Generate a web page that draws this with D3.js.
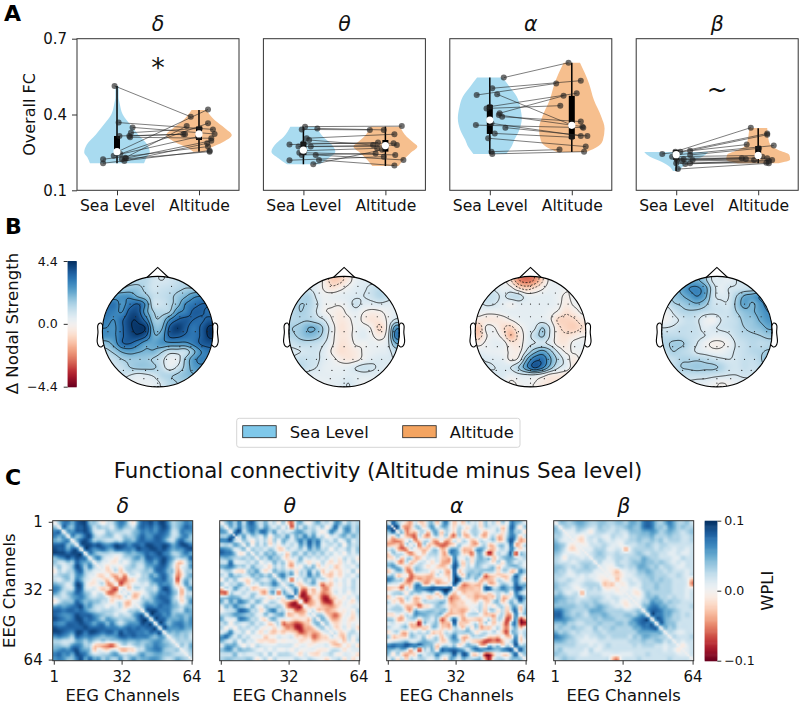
<!DOCTYPE html>
<html>
<head>
<meta charset="utf-8">
<script src="https://cdn.jsdelivr.net/npm/d3@7"></script>
<style>
  body { margin: 0; background: #fff; }
  svg { display: block; font-family: "DejaVu Sans", sans-serif; fill: #111; }
  .tick text { font-family: "DejaVu Sans", sans-serif; fill: #111; }
</style>
</head>
<body>
<div id="chart"></div>
<script>
const bands = ['δ', 'θ', 'α', 'β']
const conditions = ['Sea Level', 'Altitude']
const fcTicks = [0.1, 0.4, 0.7]
const marks = ['*', '', '', '~']

// violin outlines, [value, half width]
const deltaSeaViolin = [[0.513, 0.02], [0.47, 0.02], [0.44, 0.035], [0.40, 0.07], [0.36, 0.16], [0.32, 0.26], [0.28, 0.37], [0.25, 0.40], [0.23, 0.36], [0.207, 0.33]]
const deltaAltViolin = [[0.418, 0.09], [0.378, 0.19], [0.345, 0.32], [0.319, 0.40], [0.292, 0.30], [0.266, 0.13], [0.253, 0.07]]
const thetaSeaViolin = [[0.352, 0.16], [0.312, 0.24], [0.286, 0.33], [0.253, 0.39], [0.226, 0.30], [0.203, 0.20]]
const thetaAltViolin = [[0.352, 0.18], [0.312, 0.26], [0.292, 0.33], [0.273, 0.39], [0.246, 0.30], [0.22, 0.22], [0.196, 0.16]]
const alphaSeaViolin = [[0.546, 0.155], [0.51, 0.24], [0.47, 0.33], [0.43, 0.37], [0.385, 0.39], [0.339, 0.36], [0.30, 0.30], [0.27, 0.26], [0.244, 0.20]]
const alphaAltViolin = [[0.605, 0.10], [0.523, 0.21], [0.457, 0.27], [0.391, 0.36], [0.345, 0.40], [0.299, 0.38], [0.266, 0.28], [0.252, 0.18]]
const betaSeaViolin = [[0.252, 0.39], [0.233, 0.32], [0.213, 0.18], [0.193, 0.08], [0.176, 0.04]]
const betaAltViolin = [[0.3465, 0.11], [0.312, 0.12], [0.279, 0.15], [0.26, 0.24], [0.24, 0.38], [0.222, 0.39], [0.207, 0.25]]

// box summaries: min, q1, median, q3, max
const deltaBoxes = [[0.207, 0.25, 0.253, 0.315, 0.513], [0.253, 0.299, 0.323, 0.352, 0.418]]
const thetaBoxes = [[0.203, 0.24, 0.259, 0.292, 0.352], [0.196, 0.253, 0.277, 0.299, 0.352]]
const alphaBoxes = [[0.244, 0.323, 0.378, 0.438, 0.546], [0.252, 0.303, 0.357, 0.474, 0.605]]
const betaBoxes = [[0.176, 0.22, 0.241, 0.26, 0.252], [0.207, 0.226, 0.238, 0.275, 0.346]]

// paired subjects
const deltaSea = [0.513, 0.368, 0.349, 0.328, 0.315, 0.315, 0.310, 0.253, 0.229, 0.244, 0.237, 0.227, 0.216, 0.223, 0.207, 0.223]
const deltaAlt = [0.391, 0.341, 0.323, 0.345, 0.322, 0.322, 0.306, 0.420, 0.354, 0.365, 0.312, 0.296, 0.286, 0.273, 0.257, 0.253]
const deltaSeaJitter = [-0.03, 0.02, 0.19, 0.17, 0.15, 0.03, 0.16, 0.01, 0.10, 0.04, -0.04, 0.11, 0.09, -0.17, -0.17, 0.06]
const deltaAltJitter = [-0.10, 0.17, 0.19, 0.01, -0.19, -0.17, 0.15, 0.11, -0.15, 0.11, -0.01, 0.15, 0.10, 0.11, 0.13, 0.13]
const thetaSea = [0.352, 0.341, 0.345, 0.281, 0.306, 0.286, 0.273, 0.249, 0.240, 0.220, 0.219, 0.203, 0.240, 0.257, 0.299, 0.273]
const thetaAlt = [0.354, 0.339, 0.339, 0.289, 0.322, 0.286, 0.273, 0.240, 0.220, 0.198, 0.233, 0.260, 0.246, 0.266, 0.279, 0.279]
const thetaSeaJitter = [0.02, -0.02, 0.17, -0.17, 0.04, 0, 0.09, -0.05, 0.15, 0.19, -0.17, 0.12, -0.02, 0.01, 0.07, -0.06]
const thetaAltJitter = [0.20, -0.19, -0.02, -0.09, 0.11, 0.10, 0, 0.12, 0.22, 0.11, -0.02, -0.04, -0.12, -0.10, -0.15, 0.14]
const alphaSea = [0.546, 0.504, 0.477, 0.480, 0.431, 0.424, 0.405, 0.391, 0.398, 0.358, 0.365, 0.348, 0.325, 0.306, 0.253, 0.244]
const alphaAlt = [0.605, 0.534, 0.523, 0.358, 0.484, 0.435, 0.474, 0.372, 0.352, 0.348, 0.315, 0.315, 0.310, 0.273, 0.261, 0.253]
const alphaSeaJitter = [0.17, 0.03, -0.16, 0.09, 0, -0.04, 0.12, 0.15, 0.11, -0.17, 0.02, 0.19, 0.06, -0.02, 0.02, 0.03]
const alphaAltJitter = [-0.04, 0.11, -0.19, 0, 0.06, -0.14, -0.10, 0.11, 0.13, 0.14, 0.11, 0.19, 0, 0.17, -0.15, 0.15]
const betaSea = [0.253, 0.253, 0.257, 0.244, 0.240, 0.240, 0.233, 0.220, 0.227, 0.223, 0.220, 0.216, 0.207, 0.204, 0.207, 0.184]
const betaAlt = [0.348, 0.325, 0.320, 0.281, 0.277, 0.266, 0.238, 0.233, 0.227, 0.224, 0.227, 0.220, 0.220, 0.216, 0.209, 0.207]
const betaSeaJitter = [-0.01, 0.05, 0.17, -0.17, -0.01, 0.17, -0.05, 0.01, 0, 0.09, 0.20, 0.07, 0.17, 0.11, 0, 0.02]
const betaAltJitter = [-0.09, 0.11, 0.11, -0.14, 0.19, 0.01, 0, 0.05, -0.20, -0.15, 0.11, -0.05, 0.17, 0.13, 0.10, 0.13]

const violins = [[deltaSeaViolin, deltaAltViolin], [thetaSeaViolin, thetaAltViolin], [alphaSeaViolin, alphaAltViolin], [betaSeaViolin, betaAltViolin]]
const boxes = [deltaBoxes, thetaBoxes, alphaBoxes, betaBoxes]
const seaValues = [deltaSea, thetaSea, alphaSea, betaSea]
const altValues = [deltaAlt, thetaAlt, alphaAlt, betaAlt]
const seaJitter = [deltaSeaJitter, thetaSeaJitter, alphaSeaJitter, betaSeaJitter]
const altJitter = [deltaAltJitter, thetaAltJitter, alphaAltJitter, betaAltJitter]

// nodal strength change on a 14 x 14 grid over the head
const deltaTopo = [
  [1.2, 1.2, 1.2, 1.2, 1.2, 1.2, 0.8, 0.7, 0.8, 1, 1.2, 1.2, 1.2, 1.2],
  [1.4, 1.4, 1.4, 1.6, 1.6, 1.2, 0.8, 0.9, 1, 1.2, 1.4, 1.4, 1.4, 1.4],
  [2.4, 2.4, 2.6, 2.6, 2.0, 1.6, 1, 1, 1.2, 1.6, 2, 2.6, 2.8, 2.8],
  [3.2, 3.2, 2.6, 3.2, 3.5, 2.6, 0.9, 0.9, 1.2, 1.8, 2.8, 3.2, 3.5, 3.5],
  [3.2, 3, 2.8, 3.8, 3.8, 2.4, 1.4, 1.2, 1.4, 2.6, 3, 3.6, 3.6, 3.3],
  [3, 2.8, 3.4, 4.1, 4.1, 3.2, 1.6, 1.6, 2.8, 3.5, 3.7, 3.5, 3.4, 3.7],
  [2.8, 2.7, 3.4, 4.1, 4.3, 4.1, 2, 2.0, 3.6, 4.2, 3.7, 3.2, 3.6, 4.3],
  [2.7, 2.7, 3.4, 3.9, 4.1, 3.6, 2.2, 2.4, 3.6, 3.7, 3.4, 3.2, 3.6, 4.3],
  [1.8, 2.4, 3.4, 3.5, 3, 2.4, 2.3, 2.6, 2.6, 2.6, 2.6, 3, 3.6, 3.8],
  [1.2, 1.6, 2.2, 2.4, 2.2, 2.0, 2, 1.5, 1.0, 1.0, 1.0, 1.9, 2.8, 3.2],
  [0.8, 1.0, 1.4, 1.6, 1.6, 1.6, 1.3, 0.9, 0.3, 0.4, 1.5, 2.5, 3, 2.8],
  [0.8, 0.8, 1.0, 1.4, 1.6, 1.6, 1.5, 1.0, 0.4, 0.8, 1.6, 2.4, 2.6, 2.2],
  [0.6, 0.7, 0.9, 0.7, 0.5, 0.6, 0.8, 1.2, 1.3, 1.5, 1.8, 2, 2, 1.5],
  [0.5, 0.5, 0.4, 0.3, 0.3, 0.3, 0.4, 0.8, 1.2, 1.4, 1.4, 1.4, 1, 1]
]
const thetaTopo = [
  [0.5, 0.5, 0.5, 0.5, -0.2, -1, -0.9, -0.3, 0.3, 0.5, 0.5, 0.5, 0.5, 0.5],
  [0.8, 0.8, 0.7, 0.4, -0.1, -0.5, -0.2, 0.2, 0.5, 0.6, 0.9, 1.1, 1, 0.5],
  [1.1, 1.2, 1.3, 0.6, 0.2, 0.3, 0.4, 0.5, 0.6, 0.7, 0.9, 1.2, 1, 0.6],
  [1.2, 1.4, 1.3, 0.8, 0.2, 0.1, 0.1, 0.4, 0.9, 0.5, 0.5, 0.6, 0.5, 0.4],
  [1.2, 1.4, 1.2, 0.7, 0.1, -0.1, -0.3, 0.2, 0.4, 0, -0.2, -0.1, 0.2, 0.4],
  [1.2, 1.3, 1.3, 1, 0.7, 0, -0.4, -0.2, 0.3, -0.2, -0.5, -0.4, 0.1, 0.8],
  [1.4, 1.6, 2.1, 2, 1.2, 0.3, -0.5, -0.3, 0.2, 0.3, -0.1, -0.8, 0.2, 2.5],
  [1.3, 1.6, 1.9, 1.7, 1.1, 0.2, -0.4, -0.3, 0.3, 0.5, 0.1, -0.3, 0.4, 3.0],
  [0.9, 1.1, 1.1, 1, 0.7, 0.1, -0.5, -0.4, 0.1, 0.1, 0.3, 0.2, 0.5, 2],
  [0.6, 0.7, 0.8, 0.8, 0.5, -0.1, -0.6, -0.5, -0.3, 0.1, 0.3, 0.4, 0.5, 1],
  [0.8, 1.0, 0.9, 0.8, 0.5, 0.2, -0.2, -0.4, -0.2, 0.2, 0.5, 0.6, 0.6, 0.7],
  [1, 1.1, 0.9, 0.7, 0.4, 0.3, 0.3, 0.4, 0.7, 0.9, 0.8, 0.6, 0.5, 0.5],
  [0.9, 0.6, 0.5, 0.4, 0.4, 0.4, 0.4, 0.5, 0.5, 0.5, 0.5, 0.5, 0.5, 0.5],
  [0.5, 0.4, 0.4, 0.3, 0.3, 0.4, 0.5, 0.7, 0.5, 0.2, 0.3, 0.4, 0.4, 0.4]
]
const alphaTopo = [
  [0.4, 0.4, 0.5, 0.3, -0.6, -2, -2.4, -2, -0.8, 0.2, 0.3, 0.3, 0.3, 0.3],
  [0.8, 0.7, 0.6, 0.3, 0.2, -0.6, -1, -0.6, -0.1, 0.3, 0.3, 0.1, 0, 0.3],
  [1, 1, 0.9, 0.6, 1, 1, 0.4, 0.3, 0.4, 0.4, 0.2, -0.1, 0.2, 0.3],
  [0.6, 0.8, 0.7, 0.4, 0.1, 0.4, 0.4, 0.4, 0.4, 0.4, 0.2, -0.3, 0.1, 0.2],
  [0.3, 0.2, 0.2, 0.3, 0.4, 0.4, 0.4, 0.4, 0.4, 0.2, -0.1, -0.6, -0.3, 0.1],
  [-0.3, -0.4, -0.4, -0.3, 0, 0.3, 0.4, 0.4, 0.4, 0.1, -0.8, -0.9, -0.8, -0.4],
  [-1.1, 0.2, 0, -0.6, -0.9, -0.2, 0.3, 0.6, 1.4, 0.6, -0.5, -0.9, -1.0, -0.7],
  [-1.0, 0, 0.2, -0.3, -1.4, -0.5, 0.3, 1.0, 1.5, 0.6, -0.4, -0.6, -0.4, -0.1],
  [-0.2, 0.2, 0.4, 0.3, -0.4, -0.4, 0.4, 0.7, 0.8, 0.5, -0.3, -0.4, 0.2, 0.3],
  [0.4, 0.3, 0.3, 0.2, -0.1, -0.2, 0.8, 1.8, 2.3, 1.6, 0.6, -0.1, 0.1, 0.2],
  [0.8, 0.6, 0.5, 0.4, -0.1, 0.2, 2, 3.2, 3.3, 2.2, 1.2, 0.4, -0.3, 0.2],
  [0.5, 0.8, 0.7, 0.6, 0.7, 1.4, 2.6, 3.6, 3.0, 1.8, 0.8, 0.4, -0.3, -0.2],
  [0.2, 0.3, 0.6, 0.6, 0.3, 0.5, 0.6, 0.6, 0.3, -0.2, -0.3, -0.5, -0.7, -0.5],
  [0.1, 0.3, 0.4, 0.3, -0.1, 0.1, 0.2, 0, -0.3, -0.5, -0.6, -0.7, -0.6, -0.4]
]
const betaTopo = [
  [1, 1.2, 1.3, 2, 2.2, 1.6, 0.6, 0.5, 0.4, 0.7, 1, 1.2, 1.4, 1.4],
  [1.2, 1.6, 2.2, 2.8, 2.9, 2.4, 1, 0.4, 0.7, 0.8, 0.9, 1, 1.2, 1.5],
  [1.2, 1.6, 2, 2.4, 2.8, 2.3, 0.9, 0.6, 0.7, 1.4, 2.2, 2.4, 2.8, 3],
  [0.8, 1.3, 1.5, 1.8, 2, 1.6, 0.9, 0.8, 0.8, 1.6, 2.4, 2, 2.6, 3.0],
  [0.2, 0.8, 1.2, 1.3, 1.2, 1, 0.9, 0.9, 0.9, 1.4, 1.8, 2, 2.4, 2.8],
  [0.1, 0.5, 0.8, 1, 0.8, 0.3, 0.1, 0.7, 0.9, 1.1, 1.6, 1.7, 2.2, 2.6],
  [0.7, 0.8, 1, 1, 0.9, 0.4, 0.6, 0.8, 0.9, 1.1, 1.4, 1.6, 1.8, 2.2],
  [1.1, 1.1, 1.1, 1, 0.9, 0.7, 0.4, 0.4, 0.6, 1, 1.2, 1.3, 1.4, 1.6],
  [1.3, 1.5, 1.5, 1.1, 0.7, 0.2, -0.1, -0.1, 0.2, 0.8, 1, 1.2, 1.1, 1.2],
  [1.1, 1.4, 1.2, 1.0, 0.6, 0.4, 0.2, 0.2, 0.5, 0.8, 1, 1.2, 1.3, 1.5],
  [0.9, 1, 1.3, 1.3, 1.3, 1.2, 1, 0.8, 0.7, 0.8, 1, 1, 1.3, 2],
  [0.9, 1, 1.4, 1.5, 1.6, 1.5, 1.5, 1.3, 0.9, 0.8, 1, 0.9, 1.1, 1.4],
  [0.7, 0.7, 0.9, 1, 1, 1, 0.9, 0.8, 0.7, 0.7, 0.8, 0.8, 0.8, 0.8],
  [0.6, 0.6, 0.6, 0.6, 0.5, 0.4, 0.2, 0, 0.1, 0.4, 0.5, 0.5, 0.5, 0.5]
]
const topos = [deltaTopo, thetaTopo, alphaTopo, betaTopo]
const topoLevels = [-2.1, -1.4, -0.7, 0, 0.7, 1.4, 2.1, 2.8, 3.5, 4.2]
const topoTicks = [-4.4, 0, 4.4]

// electrode rows on the unit head, [row offset, positions]
const electrodeRows = [
  [-0.82, [-0.25, 0, 0.25]],
  [-0.7, [-0.45, -0.22, 0, 0.22, 0.45]],
  [-0.5, [-0.68, -0.5, -0.32, -0.16, 0, 0.16, 0.32, 0.5, 0.68]],
  [-0.27, [-0.8, -0.6, -0.4, -0.2, 0, 0.2, 0.4, 0.6, 0.8]],
  [0, [-0.9, -0.68, -0.46, -0.22, 0, 0.22, 0.46, 0.68, 0.9]],
  [0.27, [-0.8, -0.6, -0.4, -0.2, 0, 0.2, 0.4, 0.6, 0.8]],
  [0.5, [-0.68, -0.5, -0.32, -0.16, 0, 0.16, 0.32, 0.5, 0.68]],
  [0.7, [-0.62, -0.45, -0.22, 0, 0.22, 0.45, 0.62]],
  [0.85, [-0.25, 0, 0.25]],
  [0.93, [0]]
]
const earX = [0.497, 0.510, 0.518, 0.5299, 0.5419, 0.54, 0.547, 0.532, 0.510, 0.489]
const earY = [0.0555, 0.0775, 0.0783, 0.0746, 0.0555, -0.0055, -0.0932, -0.1313, -0.1384, -0.1199]

// connectivity difference x 100, upper triangle read on a 32 x 32 block grid
const deltaFC = [
  [1, 4, 7, 7, 5, 8, 9, 9, 4, 4, 2, -1, 2, 2, 5, 7, 6, 2, -1, 5, 8, 8, 9, 7, 9, 9, 6, 3, 4, 5, 7, 6],
  [1, 8, 5, 4, 8, 8, 9, 6, 2, 4, 3, 3, 1, 4, 6, 4, 3, 2, 6, 8, 7, 8, 6, 8, 9, 7, 3, 4, 6, 8, 7],
  [1, 6, 6, 8, 8, 9, 7, 2, 1, 1, 4, 3, 3, 3, 2, 2, 4, 5, 7, 6, 7, 6, 8, 8, 6, 2, 3, 7, 6, 6, 4],
  [1, 7, 4, 5, 8, 9, 4, 2, 3, 4, 4, 1, 2, 4, 3, 4, 6, 8, 6, 6, 8, 8, 7, 5, 2, 3, 6, 7, 4, 3],
  [1, 5, 8, 9, 7, 3, 4, 3, 2, 2, 3, 2, 5, 5, 4, 7, 8, 7, 7, 8, 8, 6, 3, 2, 6, 8, 5, 4],
  [1, 8, 9, 9, 8, 9, 7, 6, 7, 9, 8, 8, 6, 8, 8, 7, 9, 9, 8, 8, 9, 8, 5, 7, 9, 9, 7],
  [1, 9, 8, 6, 7, 8, 6, 5, 8, 8, 7, 7, 6, 9, 8, 8, 9, 9, 8, 9, 7, 5, 6, 6, 8, 9],
  [1, 7, 5, 3, 3, 3, 2, 2, 2, 4, 5, 4, 5, 6, 8, 7, 8, 9, 7, 6, 3, 3, 5, 7, 5],
  [1, 5, 7, 3, 1, 1, -1, 1, 3, 3, 5, 6, 4, 8, 8, 7, 8, 9, 7, 5, 3, 4, 4, 8],
  [1, 3, 1, 1, -1, -1, 2, 0, 2, 4, 3, 3, 6, 7, 5, 8, 9, 6, 3, -2, -3, 2, 5],
  [1, 1, -2, 1, 1, -1, 2, 3, 4, 2, 2, 5, 5, 7, 8, 8, 5, 2, -3, 1, 2, 6],
  [1, -2, -1, 3, -3, 1, 3, 2, 2, 3, 4, 3, 7, 8, 7, 4, 4, -4, -1, 3, 3],
  [1, -3, -4, -1, -5, 1, 2, 0, 3, 3, 6, 4, 7, 8, 5, 2, -5, -2, 3, 5],
  [1, -4, -5, -6, -2, -2, 2, 3, 3, 5, 7, 7, 8, 5, 3, -7, 1, 5, 3],
  [1, -7, -3, -2, 1, 1, 2, 1, 4, 4, 7, 6, 6, 3, -3, 1, 6, 3],
  [1, 1, -3, 2, 3, 1, 3, 3, 2, 6, 9, 8, 4, 1, -3, 3, 6],
  [1, 2, -2, -2, 0, 2, 4, 4, 7, 7, 8, 5, 3, -4, 2, 2],
  [1, -3, -2, 3, 2, 4, 6, 8, 8, 7, 4, 1, -2, 3, 4],
  [1, 1, 3, 5, 4, 6, 7, 8, 8, 4, 3, -2, 2, 6],
  [1, 4, 7, 7, 6, 8, 7, 7, 5, 4, 2, 4, 4],
  [1, 8, 9, 9, 7, 7, 7, 4, 3, 2, 6, 5],
  [1, 9, 8, 8, 6, 7, 4, 5, 5, 4, 5],
  [1, 9, 8, 8, 5, 5, 5, 6, 4, 6],
  [1, 9, 7, 4, 6, 7, 7, 5, 6],
  [1, 9, 6, 6, 6, 7, 5, 5],
  [1, 5, 4, 5, 4, 4, 3],
  [1, 3, 4, 3, 4, 2],
  [1, 3, 3, 3, 3],
  [1, 4, 2, 5],
  [1, 2, 4],
  [1, 3],
  [2]
]
const thetaFC = [
  [1, 4, 6, 3, 7, 2, 7, 8, 4, 2, 5, 1, 3, -1, 4, -2, -6, 3, 5, 1, 0, 3, 5, 2, 3, 1, 6, 5, 1, 4, 2, 3],
  [1, 5, 3, 7, 3, 6, 7, 5, 2, 6, 3, 1, 4, 0, 3, -7, 4, 1, 5, 2, 3, 1, 4, -1, 3, 8, 2, 5, 6, 2, 4],
  [0, 7, 9, 2, 5, 7, 4, 8, 7, 3, 6, 1, 3, 1, 3, 5, 6, 3, 2, 4, 1, -1, 2, 7, 4, 1, 5, 6, 2, 4],
  [8, 2, 6, 1, 4, 3, 1, 5, -1, 3, 4, 2, 6, 1, 5, 3, 7, 3, 6, 1, 3, -1, 2, 1, 4, 5, 2, 5, 3],
  [1, 4, 2, -1, 3, 1, 3, -2, 4, 0, 5, 3, 1, 4, 7, 4, 8, 5, 7, 2, 3, 1, 4, 0, 2, 5, 1, 3],
  [1, 5, -1, 4, 1, 4, -2, 2, -1, 3, 1, 3, 1, 6, 3, 8, 4, 7, 1, 2, 3, 1, 4, -1, 4, 2, 3],
  [0, 4, 2, 3, 1, 4, 2, -2, -2, 3, 1, 2, 4, 1, 6, 3, 5, 2, 3, -1, 3, 1, 2, 4, 1, 4],
  [1, 4, 1, 5, 3, 5, 1, 2, -3, 3, 4, 1, 5, 2, 4, 2, 4, 1, 3, 0, 2, -1, 3, 1, 3],
  [1, 4, 2, 6, 3, 4, 0, -2, 2, 1, 5, 1, 3, 1, 3, 1, 3, 0, 1, -1, 3, 1, 2, -1],
  [0, 2, 1, 5, 2, 4, -1, -3, 2, 3, 0, -2, 1, -1, 3, 0, -2, 1, -2, 2, 0, 3, 1],
  [1, -2, 3, 1, 3, -1, -4, 1, -1, 4, 2, 5, -2, 1, -1, 2, -3, -1, 1, 2, 0, 3],
  [1, 5, 3, 4, 2, 4, -2, 3, 2, 6, 1, 4, -3, 1, -2, 0, -2, 1, 0, 4, -1],
  [1, 5, 7, 3, 5, -1, 3, 2, 7, 3, 5, 0, -2, -3, 0, -2, 1, 2, 0, 3],
  [1, 4, 1, -7, 2, 0, 4, 2, 5, 1, 3, 1, -1, 2, 0, 2, 0, 3, 1],
  [1, 3, 5, -1, -2, 1, 3, 5, 0, -6, -2, -3, 1, -1, 2, 0, 3, 1],
  [1, 3, 6, -3, -5, -1, -3, 1, -4, -5, -1, 1, 0, 2, 1, 3, 1],
  [1, 7, -6, -8, -1, -3, -1, -5, -4, -2, 2, 0, 2, -1, 2, 1],
  [3, -7, -8, -6, -1, -2, -7, -8, -3, -2, 1, -1, 2, 0, 3],
  [3, -8, -5, -3, -1, -6, -8, -7, -1, -2, 1, 0, -2, 2],
  [1, -3, -2, -1, -3, -4, -5, -3, -1, 1, 0, 2, 1],
  [1, 2, -3, -2, -4, -3, -2, 0, -1, 1, -1, 3],
  [1, 4, 3, -2, -4, -6, -3, 0, 1, -2, 2],
  [1, 5, 2, -3, -4, -2, 1, -1, -2, 1],
  [1, 4, 0, -2, -1, 1, -1, 1, 0],
  [1, 2, -2, -1, 2, -1, 2, -2],
  [1, 2, -2, -1, 2, 3, 1],
  [1, -2, -3, 3, 0, 2],
  [1, -3, 2, -1, 3],
  [1, -2, 2, -2],
  [1, 1, 2],
  [1, -2],
  [1]
]
const alphaFC = [
  [2, 8, 4, 1, -2, -4, 2, -2, -2, 3, 4, -3, 3, 7, 2, -3, 1, -3, 3, 1, 2, -2, 4, 1, 3, -2, 4, 0, 7, 5, 4, 1],
  [8, 9, -2, -5, -3, 3, 4, -2, 3, 6, 1, 4, 5, 1, -2, 3, 1, -2, 2, 3, -2, 3, 2, 1, 2, -3, 1, 8, 4, -2, 4],
  [1, 5, -5, -2, -3, 2, 3, -3, 4, 5, -3, 3, 1, -2, 4, -2, 0, 3, 3, 1, -3, 0, 1, 3, -2, 2, 7, 3, 4, -2],
  [1, -3, -5, -6, 3, -3, -5, 1, 4, -2, 4, -3, -6, 4, -2, -4, 1, 3, -2, -4, 1, 3, -3, -2, 3, 7, 5, -2, 3],
  [1, 3, -5, -2, 2, 3, -3, -4, 1, -4, -3, 3, -2, 3, 1, -3, -2, 3, 1, 2, 4, -3, -2, 4, 9, 3, -4, -3],
  [1, 2, -6, 4, -3, -2, -5, -6, -6, -3, -2, 4, 1, 0, -3, -4, 1, 3, -3, -2, 3, 4, 1, 8, -4, -2, 3],
  [1, -2, -3, -2, 3, 3, -3, -2, 5, 6, 3, -3, -3, -2, 5, 6, 3, -2, -3, 1, 3, 1, 7, 3, -2, 1],
  [1, -3, 2, 3, 3, -2, -4, 6, 6, 4, -2, -2, -6, 3, 5, -2, -9, -2, 3, 1, 3, 8, -9, 4, 3],
  [1, 2, 1, 2, -2, -3, -3, 7, 1, 1, 3, -2, 3, 5, 3, 4, -3, 1, 4, 5, 5, 3, 1, 3],
  [1, -2, 2, -3, -4, -3, 8, 3, -3, 3, -2, 4, 4, 3, 1, -2, 4, -2, 4, 4, 1, 3, 1],
  [1, -2, -3, -2, 2, 9, 4, -2, 3, 1, 4, 3, 1, 3, 4, -3, 1, 3, 4, 5, 3, 1],
  [1, 2, -3, -3, 9, -3, 1, 3, 4, 3, 4, 4, 4, 3, -2, 3, 3, -3, -2, 7, 4],
  [1, -2, -2, 9, 3, -3, 5, 3, 4, 4, -6, -3, -2, -2, -3, -2, 1, 8, 4, 1],
  [1, -2, 9, 9, 3, 3, 1, 4, -3, -3, -3, -2, 3, 1, -2, 3, 7, 3, -2],
  [1, 9, 2, -5, -4, -2, -3, -3, 3, -3, -3, 1, 4, 3, 1, 8, 4, 5],
  [1, -3, -4, -3, -3, -2, -2, 8, 9, 3, 4, 7, 5, 4, 8, 9, 4],
  [1, -3, -2, -2, -3, -2, 1, -2, 1, 3, 1, 4, -2, 7, 3, 1],
  [1, -2, -2, -4, -3, -4, -2, -3, 4, -3, -3, 1, 5, 9, 5],
  [1, -1, -2, 2, -2, -2, 4, 4, -3, 1, 5, 1, 7, 3],
  [1, 1, 3, -2, 1, -2, 3, 3, -2, 4, 5, -2, 3],
  [1, 3, -3, 3, 4, -2, 3, -3, 3, 8, -3, 4],
  [1, -3, -3, -4, 1, 3, -4, -3, 7, 1, 4],
  [1, 3, -3, 3, 1, -7, -3, 7, -8, -4],
  [1, -3, 1, -2, -7, 4, 7, -8, -8],
  [1, 3, -2, -5, 1, 5, -3, 1],
  [1, -3, -7, 4, 4, 1, 3],
  [1, -3, -2, 7, -2, 3],
  [1, 3, 8, -2, 1],
  [1, 9, 3, 4],
  [1, 9, 4],
  [1, 4],
  [1]
]
const betaFC = [
  [1, 4, 4, 3, 4, 5, 5, 4, 3, 3, 4, 4, 3, 3, 4, 4, 3, 5, 5, 4, 7, 8, 7, 4, 3, 5, 7, 5, 3, 3, 4, 2],
  [1, 3, 3, 2, 4, 4, 3, 2, 2, 4, 3, 3, 2, 3, 3, 4, 5, 4, 4, 7, 8, 7, 4, 4, 3, 6, 5, 3, 4, 3, 3],
  [1, 1, 1, 3, 2, 1, -1, 2, 3, 3, 2, 2, 3, 2, 2, 4, 4, 4, 5, 5, 6, 5, 3, 4, 5, 4, 3, 2, 3, 4],
  [1, 1, 0, -1, 1, 2, 2, 2, 1, 1, 3, 2, 2, 1, 3, 3, 4, 4, 4, 5, 3, 3, 3, 4, 3, 3, 2, 2, 3],
  [1, -1, -2, 1, 2, 1, 3, 2, 1, 2, 1, 1, 2, 3, 3, 4, 3, 3, 4, 3, 4, 2, 3, 3, 3, 2, 2, 3],
  [1, 0, 0, 2, 2, 2, 3, 2, 1, 1, 0, 2, 2, 2, 3, 3, 4, 3, 2, 3, 3, 2, 2, 2, 2, 2, 2],
  [1, 1, 1, 3, 3, 3, 1, 1, 2, 1, -4, 1, 3, 3, 3, 3, 3, 2, 3, 2, 2, 1, 2, 2, 1, 2],
  [1, 2, 3, 4, 3, 2, 2, 3, 2, 2, 2, 3, 4, 3, 2, 3, 3, 2, 2, 1, 1, 2, 1, 1, 2],
  [1, 3, 3, 3, 1, 2, 3, 3, 2, 3, 3, 3, 5, 4, 3, 3, 2, 2, 2, 1, 1, 3, 2, 2],
  [1, 3, 1, 1, 1, 3, 2, 2, 3, 4, 4, 5, 4, 4, 3, 4, 3, 2, 1, 2, 1, 2, 2],
  [1, 1, 0, 0, 2, 3, 2, 3, 3, 5, 5, 4, 3, 4, 2, 3, 3, 2, 1, 1, 2, 2],
  [1, 0, -1, -3, 0, 1, 2, 2, 4, 4, 5, 4, 3, 3, 2, 3, 2, 2, 2, 1, 2],
  [1, -1, -2, -1, 1, 1, 2, 3, 3, 4, 4, 3, 3, 3, 2, 2, 3, 2, 1, 2],
  [1, -3, 0, 1, 2, 1, 2, 3, 3, 4, 3, 4, 3, 3, 2, 2, 2, 1, -3],
  [1, -1, 0, 2, 2, 1, 3, 3, 3, 4, 3, 3, 3, 2, 2, 2, 1, -5],
  [1, 0, 1, 0, 1, 3, 3, 3, 4, 3, 3, 3, 2, 2, 2, 1, 1],
  [1, 1, -1, -1, 2, 4, 3, 3, 3, 3, 3, 2, 2, 2, 1, 2],
  [1, 1, 0, 2, 4, 4, 5, 3, 3, 2, 3, 2, 2, 1, 2],
  [1, 1, 3, 3, 6, 5, 5, 3, 4, 3, 3, 2, 2, 2],
  [1, 4, 5, 7, 7, 5, 5, 3, 3, 2, 2, 2, 3],
  [1, 6, 8, 8, 7, 5, 5, 4, 3, 2, 2, 2],
  [1, 9, 7, 7, 5, 5, 3, 3, 2, 3, 2],
  [1, 8, 8, 5, 4, 3, 3, 2, 2, 2],
  [1, 8, 5, 4, 4, 2, 2, 2, 2],
  [1, 5, 3, 4, 2, 2, 2, 2],
  [1, 3, 2, 1, 1, 2, 2],
  [1, 3, 2, 2, 2, 3],
  [1, 2, 1, 2, 2],
  [1, -1, 1, 2],
  [1, 1, 2],
  [1, 2],
  [1]
]
const matrices = [deltaFC, thetaFC, alphaFC, betaFC]
const channelTicks = [1, 32, 64]
const wpliTicks = [-0.1, 0, 0.1]

const width = 800, height = 705
const svg = d3.select('#chart').append('svg').attr('width', width).attr('height', height)
const edge = '#333'

const panelLabel = (t, x, y) => svg.append('text').text(t).attr('x', x).attr('y', y)
  .attr('font-size', 22).attr('font-weight', 700).style('fill', '#000')
const axisStyle = (g, size) => {
  g.selectAll('.tick line').attr('stroke', edge)
  g.selectAll('.tick text').attr('font-size', size)
}

// catmull-rom resampling of a block grid to n x n, flat array
function resample (grid, n) {
  let m = grid.length, out = new Float64Array(n * n)
  let at = (r, c) => grid[Math.max(0, Math.min(m - 1, r))][Math.max(0, Math.min(m - 1, c))]
  let weights = t => [
    0.5 * (-t + 2 * t * t - t * t * t),
    0.5 * (2 - 5 * t * t + 3 * t * t * t),
    0.5 * (t + 4 * t * t - 3 * t * t * t),
    0.5 * (-t * t + t * t * t)
  ]
  for (let j = 0; j < n; j++) {
    let v = (j + 0.5) / n * m - 0.5, r0 = Math.floor(v), wr = weights(v - r0)
    for (let i = 0; i < n; i++) {
      let u = (i + 0.5) / n * m - 0.5, c0 = Math.floor(u), wc = weights(u - c0), sum = 0
      for (let a = 0; a < 4; a++) {
        for (let b = 0; b < 4; b++) sum += wr[a] * wc[b] * at(r0 + a - 1, c0 + b - 1)
      }
      out[j * n + i] = sum
    }
  }
  return out
}

function toImage (values, n, color) {
  let canvas = document.createElement('canvas')
  canvas.width = canvas.height = n
  let ctx = canvas.getContext('2d'), img = ctx.createImageData(n, n)
  values.forEach((v, k) => {
    let c = d3.rgb(color(v))
    img.data[k * 4] = c.r
    img.data[k * 4 + 1] = c.g
    img.data[k * 4 + 2] = c.b
    img.data[k * 4 + 3] = 255
  })
  ctx.putImageData(img, 0, 0)
  return canvas.toDataURL()
}

function colorbar (x0, y0, w, h, color, domain) {
  let scale = d3.scaleLinear().domain(domain).range([y0 + h, y0])
  let g = svg.append('g')
  g.selectAll('rect').data(d3.range(0, 128)).enter().append('rect')
    .attr('x', x0).attr('width', w)
    .attr('y', d => scale(domain[0] + (d + 1) / 128 * (domain[1] - domain[0])))
    .attr('height', h / 128 + 0.6)
    .attr('fill', d => color(domain[0] + (d + 0.5) / 128 * (domain[1] - domain[0])))
  return scale
}

// ---- A: violins
const violinW = 162, violinStep = 186.4, violinLeft = 77, violinTop = 38.7, violinH = 151.6
const fcY = d3.scaleLinear().domain([0.1, 0.7]).range([violinTop + violinH, violinTop])
const fills = ['#a9dbf0', '#f6bf8e']
const legendFills = ['#7fc8ea', '#f4a460']

panelLabel('A', 4, 20.6)

bands.forEach((band, p) => {
  let left = violinLeft + p * violinStep
  let x = d3.scaleLinear().domain([-0.488, 1.488]).range([left, left + violinW])
  let g = svg.append('g')

  violins[p].forEach((shape, c) => {
    let area = d3.area().curve(d3.curveMonotoneY)
      .y(d => fcY(d[0]))
      .x0(d => x(c - d[1]))
      .x1(d => x(c + d[1]))
    g.append('path').attr('d', area(shape)).attr('fill', fills[c])
    let box = boxes[p][c]
    g.append('line').attr('x1', x(c)).attr('x2', x(c))
      .attr('y1', fcY(box[0])).attr('y2', fcY(box[4]))
      .attr('stroke', '#000').attr('stroke-width', 1.5)
    g.append('rect').attr('x', x(c) - 3).attr('width', 6)
      .attr('y', fcY(box[3])).attr('height', fcY(box[1]) - fcY(box[3]))
      .attr('fill', '#000')
  })

  seaValues[p].forEach((v, i) => {
    g.append('line')
      .attr('x1', x(seaJitter[p][i])).attr('y1', fcY(v))
      .attr('x2', x(1 + altJitter[p][i])).attr('y2', fcY(altValues[p][i]))
      .attr('stroke', '#222').attr('stroke-opacity', 0.65).attr('stroke-width', 0.9)
  })
  let dots = seaValues[p].map((v, i) => [seaJitter[p][i], v])
    .concat(altValues[p].map((v, i) => [1 + altJitter[p][i], v]))
  g.selectAll('circle.subject').data(dots).enter().append('circle')
    .classed('subject', true)
    .attr('cx', d => x(d[0])).attr('cy', d => fcY(d[1])).attr('r', 3)
    .attr('fill', '#222').attr('fill-opacity', 0.65)

  boxes[p].forEach((box, c) => {
    g.append('circle').attr('cx', x(c)).attr('cy', fcY(box[2])).attr('r', 3.6).attr('fill', '#fff')
  })

  g.append('rect').attr('x', left).attr('y', violinTop).attr('width', violinW).attr('height', violinH)
    .attr('fill', 'none').attr('stroke', edge).attr('stroke-width', 1)

  let xAxis = g.append('g').attr('transform', `translate(0,${violinTop + violinH})`)
    .call(d3.axisBottom(x).tickValues([0, 1]).tickFormat(d => conditions[d]).tickSize(5).tickPadding(5).tickSizeOuter(0))
  xAxis.select('.domain').remove()
  axisStyle(xAxis, 15.6)

  if (p === 0) {
    let yAxis = g.append('g').attr('transform', `translate(${left},0)`)
      .call(d3.axisLeft(fcY).tickValues(fcTicks).tickFormat(d3.format('.1f')).tickSize(5).tickPadding(5))
    yAxis.select('.domain').remove()
    axisStyle(yAxis, 15)
    g.append('text').text('Overall FC').attr('transform', `translate(35,${violinTop + violinH / 2}) rotate(-90)`)
      .attr('text-anchor', 'middle').attr('font-size', 16)
  }

  g.append('text').text(band).attr('x', left + violinW / 2).attr('y', 30.5)
    .attr('text-anchor', 'middle').attr('font-size', 20.5).attr('font-style', 'oblique')
  if (marks[p] === '*') {
    g.append('text').text('*').attr('x', left + violinW / 2).attr('y', 77)
      .attr('text-anchor', 'middle').attr('font-size', 27)
  } else if (marks[p]) {
    g.append('text').text(marks[p]).attr('x', left + violinW / 2).attr('y', 98)
      .attr('text-anchor', 'middle').attr('font-size', 25)
  }
})

// ---- B: topographies
panelLabel('B', 5, 234)

const topoColor = d3.scaleSequential(d3.interpolateRdBu).domain([-4.4, 4.4])
const headR = 55.3, headY = 331.7, headLeft = 157.7, headStep = 186.4, gridN = 112
const electrodes = electrodeRows.flatMap(r => r[1].map(x => [x, r[0]]))
const defs = svg.append('defs')

topos.forEach((grid, p) => {
  let cx = headLeft + p * headStep
  let values = resample(grid, gridN)
  let id = 'head' + p
  defs.append('clipPath').attr('id', id).append('circle')
    .attr('cx', cx).attr('cy', headY).attr('r', headR)

  let g = svg.append('g')
  let clipped = g.append('g').attr('clip-path', `url(#${id})`)
  clipped.append('image').attr('x', cx - headR).attr('y', headY - headR)
    .attr('width', 2 * headR).attr('height', 2 * headR)
    .attr('href', toImage(values, gridN, topoColor))

  let k = 2 * headR / gridN
  let path = d3.geoPath(d3.geoIdentity().scale(k).translate([cx - headR, headY - headR]))
  let contours = d3.contours().size([gridN, gridN]).thresholds(topoLevels)(values)
  clipped.selectAll('path').data(contours).enter().append('path')
    .attr('d', path).attr('fill', 'none').attr('stroke', '#000').attr('stroke-width', 0.7)
    .attr('stroke-dasharray', d => d.value < 0 ? '2,1.5' : null)

  g.selectAll('circle.sensor').data(electrodes).enter().append('circle')
    .classed('sensor', true)
    .attr('cx', d => cx + d[0] * headR).attr('cy', d => headY + d[1] * headR)
    .attr('r', 0.6).attr('fill', '#222')

  g.append('circle').attr('cx', cx).attr('cy', headY).attr('r', headR)
    .attr('fill', 'none').attr('stroke', '#000').attr('stroke-width', 1.1)
  let line = d3.line()
  g.append('path').attr('fill', 'none').attr('stroke', '#000').attr('stroke-width', 1.1)
    .attr('d', line([[cx - 0.19 * headR, headY - 0.985 * headR], [cx, headY - 1.163 * headR], [cx + 0.19 * headR, headY - 0.985 * headR]]))
  ;[-1, 1].forEach(side => {
    let ear = d3.line().curve(d3.curveCatmullRom)(earX.map((e, i) => [cx + side * 2 * e * headR, headY - 2 * earY[i] * headR]))
    g.append('path').attr('d', ear).attr('fill', 'none').attr('stroke', '#000').attr('stroke-width', 1.1)
  })
})

const topoScale = colorbar(67.7, 261, 9, 125.7, topoColor, [-4.4, 4.4])
const topoAxis = svg.append('g').attr('transform', 'translate(67.7,0)')
  .call(d3.axisLeft(topoScale).tickValues(topoTicks).tickFormat(d3.format('.1f')).tickSize(4).tickPadding(6))
topoAxis.select('.domain').remove()
axisStyle(topoAxis, 12.6)
svg.append('text').text('Δ Nodal Strength').attr('transform', 'translate(18,323.5) rotate(-90)')
  .attr('text-anchor', 'middle').attr('font-size', 16.6)

// ---- legend
const legend = svg.append('g')
legend.append('rect').attr('x', 236.7).attr('y', 418.3).attr('width', 283.3).attr('height', 29)
  .attr('rx', 2.5).attr('fill', '#fff').attr('stroke', '#d5d5d5')
const legendX = [242.7, 402.7]
conditions.forEach((name, i) => {
  legend.append('rect').attr('x', legendX[i]).attr('y', 425.7).attr('width', 33.5).attr('height', 12)
    .attr('fill', legendFills[i]).attr('stroke', '#222').attr('stroke-width', 0.8)
  legend.append('text').text(name).attr('x', legendX[i] + 47).attr('y', 437.5).attr('font-size', 16.4)
})

// ---- C: connectivity
panelLabel('C', 5, 485)
svg.append('text').text('Functional connectivity (Altitude minus Sea level)')
  .attr('x', 378).attr('y', 477.5).attr('text-anchor', 'middle').attr('font-size', 21.3)

const wpliColor = d3.scaleSequential(d3.interpolateRdBu).domain([-0.1, 0.1])
const matW = 140, matStep = 167, matLeft = 52.7, matTop = 520.7, channels = 64

function symmetric (rows) {
  let n = rows.length
  let grid = d3.range(n).map(() => new Array(n).fill(0))
  rows.forEach((row, i) => row.forEach((v, k) => {
    if (i + k < n) grid[i][i + k] = grid[i + k][i] = v * 0.01
  }))
  return grid
}

matrices.forEach((rows, p) => {
  let left = matLeft + p * matStep
  let x = d3.scaleLinear().domain([0.5, channels + 0.5]).range([left, left + matW])
  let y = d3.scaleLinear().domain([0.5, channels + 0.5]).range([matTop, matTop + matW])
  let values = resample(symmetric(rows), channels)
  d3.range(channels).forEach(i => { values[i * channels + i] = 0 })

  let g = svg.append('g')
  g.append('image').attr('x', left).attr('y', matTop).attr('width', matW).attr('height', matW)
    .attr('href', toImage(values, channels, wpliColor))
  g.append('rect').attr('x', left).attr('y', matTop).attr('width', matW).attr('height', matW)
    .attr('fill', 'none').attr('stroke', edge)

  let xAxis = g.append('g').attr('transform', `translate(0,${matTop + matW})`)
    .call(d3.axisBottom(x).tickValues(channelTicks).tickSize(4).tickPadding(7))
  xAxis.select('.domain').remove()
  axisStyle(xAxis, 15)
  g.append('text').text('EEG Channels').attr('x', left + matW / 2).attr('y', 700.6)
    .attr('text-anchor', 'middle').attr('font-size', 16.4)
  g.append('text').text(bands[p]).attr('x', left + matW / 2).attr('y', 513)
    .attr('text-anchor', 'middle').attr('font-size', 20.5).attr('font-style', 'oblique')

  if (p === 0) {
    let yAxis = g.append('g').attr('transform', `translate(${left},0)`)
      .call(d3.axisLeft(y).tickValues(channelTicks).tickSize(4).tickPadding(6))
    yAxis.select('.domain').remove()
    axisStyle(yAxis, 15)
    g.append('text').text('EEG Channels').attr('transform', `translate(15,${matTop + matW / 2}) rotate(-90)`)
      .attr('text-anchor', 'middle').attr('font-size', 16.4)
  }
})

const wpliScale = colorbar(704.7, matTop, 12.6, matW, wpliColor, [-0.1, 0.1])
const wpliAxis = svg.append('g').attr('transform', 'translate(717.3,0)')
  .call(d3.axisRight(wpliScale).tickValues(wpliTicks).tickFormat(d3.format('.1f')).tickSize(4).tickPadding(3))
wpliAxis.select('.domain').remove()
axisStyle(wpliAxis, 12.6)
svg.append('text').text('WPLI').attr('transform', `translate(773,${matTop + matW / 2}) rotate(-90)`)
  .attr('text-anchor', 'middle').attr('font-size', 16.4)
</script>
</body>
</html>
